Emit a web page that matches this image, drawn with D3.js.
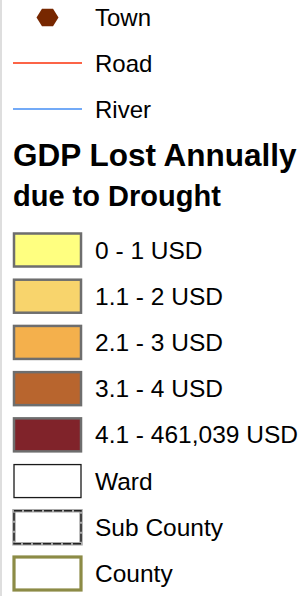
<!DOCTYPE html>
<html>
<head>
<meta charset="utf-8">
<script src="https://cdn.jsdelivr.net/npm/d3@7"></script>
<style>
  html, body { margin: 0; padding: 0; background: #fff; }
  svg { display: block; font-family: "Liberation Sans", Arial, sans-serif; }
</style>
</head>
<body>
<script>
// legend content
var symbolLabels = ["Town", "Road", "River"];
var symbolKinds = ["point", "line", "line"];
var symbolColors = ["#772700", "#fc6447", "#73aaf7"];

var titleLines = ["GDP Lost Annually", "due to Drought"];

var classLabels = ["0 - 1 USD", "1.1 - 2 USD", "2.1 - 3 USD", "3.1 - 4 USD", "4.1 - 461,039 USD"];
var classColors = ["#ffff80", "#f8d46c", "#f4b04c", "#b8652e", "#80232a"];

var boundaryLabels = ["Ward", "Sub County", "County"];

var width = 307, height = 596;

var svg = d3.select("body").append("svg")
  .attr("width", width).attr("height", height);

// thin grey frame edge on the left
svg.append("rect").attr("x", 0).attr("y", 0).attr("width", 2).attr("height", height).attr("fill", "#dedede");

// vertical positions
var ySym = d3.scalePoint().domain(symbolLabels).range([17, 109]);
var allRows = classLabels.concat(boundaryLabels);
var yRow = d3.scalePoint().domain(allRows).range([250, 573.5]);

var swX = 13, swW = 69, swH = 33, textX = 95;

// point / line symbols
var sym = svg.selectAll("g.sym").data(symbolLabels).enter().append("g")
  .attr("class", "sym")
  .attr("transform", function(d) { return "translate(0," + ySym(d) + ")"; });

sym.each(function(d, i) {
  var g = d3.select(this);
  if (symbolKinds[i] == "point") {
    var r = 11;
    var pts = d3.range(6).map(function(k) {
      var a = k * Math.PI / 3;
      return [47.5 + r * Math.cos(a), 0.5 + r * 0.92 * Math.sin(a)];
    });
    g.append("path").attr("d", d3.line()(pts) + "Z").attr("fill", symbolColors[i]);
  } else {
    g.append("line").attr("x1", swX).attr("x2", swX + swW).attr("y1", 0).attr("y2", 0)
      .attr("stroke", symbolColors[i]).attr("stroke-width", 2);
  }
});
sym.append("text").attr("x", textX).attr("y", 8.5).attr("font-size", 24).attr("fill", "#000")
  .text(function(d) { return d; });

// title
svg.append("text").attr("x", 13).attr("y", 166).attr("font-size", 31.5).attr("font-weight", "bold").text(titleLines[0]);
svg.append("text").attr("x", 13).attr("y", 206).attr("font-size", 29).attr("font-weight", "bold").text(titleLines[1]);

// class swatches
var rows = svg.selectAll("g.row").data(allRows).enter().append("g")
  .attr("class", "row")
  .attr("transform", function(d) { return "translate(0," + yRow(d) + ")"; });

rows.each(function(d, i) {
  var g = d3.select(this);
  var rect = function() {
    return g.append("rect").attr("x", swX + 1).attr("y", -swH / 2).attr("width", swW - 2).attr("height", swH);
  };
  if (i < classLabels.length) {
    rect().attr("fill", classColors[i]).attr("stroke", "#6e6e6e").attr("stroke-width", 2.5);
  } else if (d == "Ward") {
    rect().attr("fill", "#fff").attr("stroke", "#1a1a1a").attr("stroke-width", 1.3);
  } else if (d == "Sub County") {
    rect().attr("fill", "#fff").attr("stroke", "#a8a8a8").attr("stroke-width", 3.5);
    rect().attr("fill", "none").attr("stroke", "#222").attr("stroke-width", 1.5).attr("stroke-dasharray", "8,2");
  } else {
    rect().attr("fill", "#fff").attr("stroke", "#8c8b46").attr("stroke-width", 3.2);
  }
});
rows.append("text").attr("x", textX).attr("y", 8.5).attr("font-size", 24.5).attr("fill", "#000")
  .text(function(d) { return d; });
</script>
</body>
</html>
